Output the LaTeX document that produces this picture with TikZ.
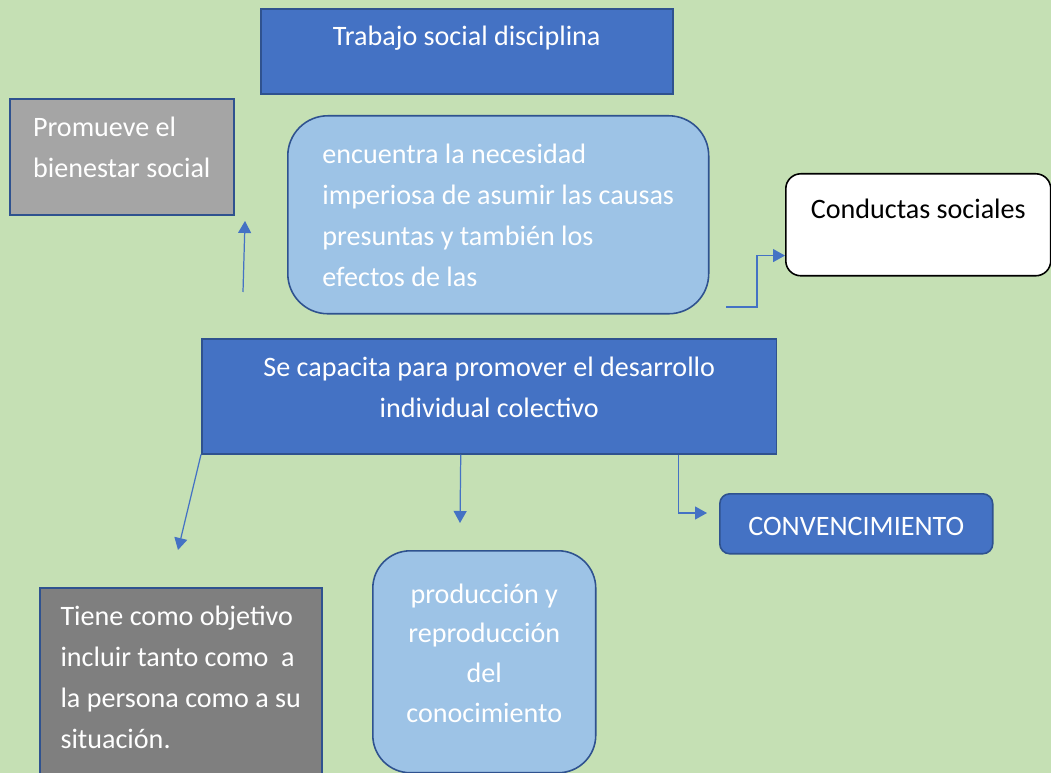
\documentclass[tikz,border=0pt]{standalone}
\usepackage{fontspec}
\setmainfont{Carlito}
\usetikzlibrary{arrows.meta}
\definecolor{fondo}{RGB}{197,224,180}
\definecolor{azulosc}{RGB}{68,114,196}
\definecolor{azulcl}{RGB}{157,195,230}
\definecolor{borde}{RGB}{47,82,143}
\definecolor{grisclaro}{RGB}{165,165,165}
\definecolor{grisosc}{RGB}{127,127,127}
\begin{document}
\begin{tikzpicture}[x=0.02cm,y=-0.02cm,
    caja/.style={draw=borde,line width=0.9pt,anchor=north west,inner sep=0pt,
      text=white,font=\fontsize{16pt}{23.3pt}\selectfont},
    flecha/.style={draw=azulosc,line width=0.7pt,-{Triangle[length=0.24cm,width=0.26cm]}}]
  \fill[fondo] (0,0) rectangle (1051,773);
  \clip (0,0) rectangle (1051,773);
  \node[caja,fill=azulosc,minimum width=8.24cm,text height=0.74cm,text depth=0.96cm]
    (trab) at (260,8) {Trabajo social disciplina};
  \node[caja,fill=grisclaro,minimum width=4.48cm,align=left,text height=1.58cm,text depth=0.74cm]
    (prom) at (9,98) {Promueve el\\bienestar social};
  \node[caja,fill=azulcl,rounded corners=0.8cm,minimum width=8.42cm,align=left,
    text height=3.42cm,text depth=0.54cm]
    (enc) at (287,115) {encuentra la necesidad\\imperiosa de asumir las causas\\presuntas y también los\\efectos de las};
  \node[caja,draw=black,fill=white,text=black,rounded corners=0.3cm,minimum width=5.3cm,
    text height=0.9cm,text depth=1.14cm]
    (cond) at (785,173) {Conductas sociales};
  \node[caja,fill=azulosc,minimum width=11.5cm,align=center,text height=1.58cm,text depth=0.72cm]
    (capa) at (201,338) {Se capacita para promover el desarrollo\\individual colectivo};
  \node[caja,fill=azulosc,rounded corners=0.2cm,minimum width=5.46cm,text height=0.84cm,text depth=0.36cm]
    (conv) at (719,493) {CONVENCIMIENTO};
  \node[caja,fill=azulcl,rounded corners=0.75cm,minimum width=4.46cm,align=center,
    text height=3.44cm,text depth=1.0cm,font=\fontsize{16pt}{22.7pt}\selectfont]
    (prod) at (372,550) {producción y\\reproducción\\del\\conocimiento};
  \node[caja,fill=grisosc,minimum width=5.64cm,align=left,text height=3.22cm,text depth=0.7cm]
    (tiene) at (39,587) {Tiene como objetivo\\incluir tanto como~ a\\la persona como a su\\situación.};
  \coordinate (pA) at (243,292);
  \coordinate (pB) at (245,221);
  \coordinate (cA) at (726,307);
  \coordinate (dA) at (178,550);
  \coordinate (dB) at (460,523);
  \coordinate (dC) at (707,513);
  \draw[flecha] (pA) -- (pB);
  \draw[flecha] (cA) -- ++(31,0) |- ([yshift=0.42cm]cond.south west);
  \draw[flecha] (capa.south west) -- (dA);
  \draw[flecha] ([xshift=-0.57cm]capa.south) -- (dB);
  \draw[flecha] ([xshift=-1.98cm]capa.south east) |- (dC);
\end{tikzpicture}
\end{document}
